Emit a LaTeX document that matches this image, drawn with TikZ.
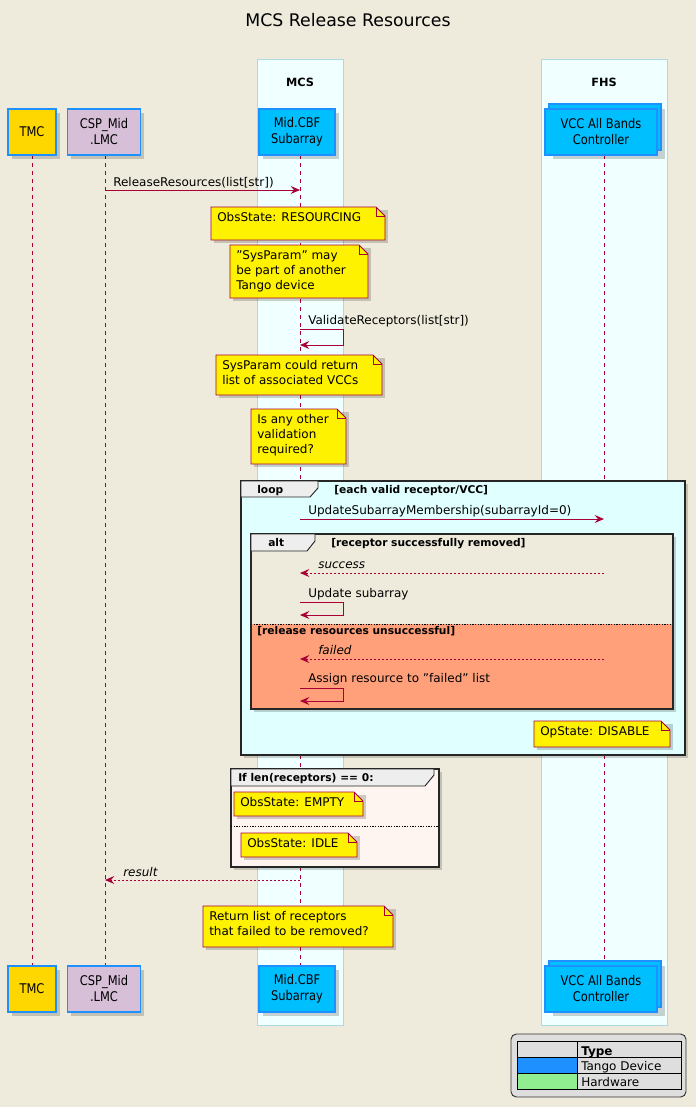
\documentclass[tikz,border=0pt]{standalone}
\usepackage{fontspec}
\setmainfont{DejaVu Sans}
\newfontfamily\narrowf{DejaVu Sans}[FakeStretch=0.86]
\usetikzlibrary{arrows.meta}
\definecolor{bg}{HTML}{EEEBDC}
\definecolor{ln}{HTML}{A80036}
\definecolor{boxf}{HTML}{F0FFFF}
\definecolor{boxd}{HTML}{ADD8E6}
\definecolor{loopf}{HTML}{E0FFFF}
\definecolor{salmon}{HTML}{FFA07A}
\definecolor{seash}{HTML}{FFF5F0}
\definecolor{dblue}{HTML}{1E90FF}
\definecolor{dsky}{HTML}{00BFFF}
\definecolor{gold}{HTML}{FFD700}
\definecolor{thistle}{HTML}{D8BFD8}
\definecolor{lgreen}{HTML}{90EE90}
\definecolor{tabf}{HTML}{EEEEEE}
\tikzset{
  part/.style={draw=dblue,line width=0.9pt,align=center,inner sep=0pt,font=\narrowf\fontsize{10}{12}\selectfont},
  life/.style={draw=ln,dashed,dash pattern=on 3pt off 3pt,line width=0.6pt},
  msg/.style={draw=ln,line width=0.7pt,-{Stealth[length=7pt,width=6pt,inset=2.5pt]}},
  ret/.style={msg,dash pattern=on 1.5pt off 1.5pt},
  lbl/.style={anchor=base west,inner sep=0pt,font=\fontsize{9}{11}\selectfont},
  ilbl/.style={lbl,font=\fontsize{9}{11}\selectfont\itshape},
  ntxt/.style={anchor=north west,inner sep=0pt,align=left,font=\fontsize{9}{11.2}\selectfont},
  frm/.style={draw=black!85,line width=1.4pt},
  ftab/.style={anchor=base west,inner sep=0pt,font=\bfseries\fontsize{8}{10}\selectfont},
  shadow/.style={fill=black,opacity=0.18,draw=none},
}
\newcommand\mynote[6]{%
  \fill[shadow] (#2+3,#3+3) rectangle (#4+3,#5+3);
  \draw[ln,fill=yellow,line width=0.6pt] (#2,#3) -- (#4-9,#3) -- (#4,#3+9) -- (#4,#5) -- (#2,#5) -- cycle;
  \draw[ln,line width=0.6pt] (#4-9,#3) -- (#4-9,#3+9) -- (#4,#3+9);
  \node[ntxt] (#1) at (#2+6,#3+5) {#6};}
\newcommand\mypart[6]{%
  \fill[shadow] (#2+4,#3+4) rectangle (#4+4,#5+4);
  \node[part,fill=#6,minimum width={(#4-#2)*0.75pt},minimum height={(#5-#3)*0.75pt}] (#1) at ({(#2+#4)/2},{(#3+#5)/2}) {\strut\\[-12pt]};}
\begin{document}
\begin{tikzpicture}[x=0.75pt,y=-0.75pt]
\fill[bg] (0,0) rectangle (696,1107);
\useasboundingbox (0,0) rectangle (696,1107);
\node[font=\fontsize{13}{15}\selectfont] (title) at (348,20) {MCS Release Resources};
% boxes
\draw[boxd,fill=boxf,line width=0.6pt] (257,59) rectangle (343,1025);
\draw[boxd,fill=boxf,line width=0.6pt] (541,59) rectangle (667,1025);
\node[font=\bfseries\fontsize{8.5}{10}\selectfont] (mcs) at (300,82) {MCS};
\node[font=\bfseries\fontsize{8.5}{10}\selectfont] (fhs) at (604,82) {FHS};
% lifelines
\coordinate (l1t) at (32,155); \coordinate (l1b) at (32,966);
\coordinate (l2t) at (105,155); \coordinate (l2b) at (105,966);
\coordinate (l3t) at (300,155); \coordinate (l3b) at (300,966);
\coordinate (l4t) at (604,155); \coordinate (l4b) at (604,966);
\draw[life] (l1t) -- (l1b); \draw[life] (l2t) -- (l2b);
\draw[life] (l3t) -- (l3b); \draw[life] (l4t) -- (l4b);
% participants
\foreach \y/\s in {109/t,966/b}{
  \fill[shadow] (12,\y+4) rectangle (60,\y+50);
  \node[part,fill=gold,minimum width=36pt,minimum height=34.5pt] (tmc\s) at (32,\y+23) {TMC};
  \fill[shadow] (71,\y+4) rectangle (144,\y+50);
  \node[part,fill=thistle,minimum width=54.75pt,minimum height=34.5pt] (csp\s) at (104,\y+23) {CSP\_Mid\\.LMC};
  \fill[shadow] (263,\y+4) rectangle (339,\y+50);
  \node[part,fill=dsky,minimum width=57pt,minimum height=34.5pt] (cbf\s) at (297,\y+23) {Mid.CBF\\Subarray};
  \fill[shadow] (553,\y) rectangle (665,\y+50);
  \draw[dblue,fill=dsky,line width=0.9pt] (549,\y-5) rectangle (661,\y+41);
  \node[part,fill=dsky,minimum width=84pt,minimum height=34.5pt] (vcc\s) at (601,\y+23) {VCC All Bands\\Controller};
}
% messages
\draw[msg] (l2t|-0,190) -- (l3t|-0,190);
\node[lbl] (m1) at (113,186) {ReleaseResources(list[str])};
\mynote{n1}{211}{207}{385}{240}{ObsState: RESOURCING}
\mynote{n2}{230}{245}{368}{298}{"SysParam" may\\be part of another\\Tango device}
\node[lbl] (m2) at (308,324) {ValidateReceptors(list[str])};
\draw[msg] (300,329) -- (343,329) -- (343,345) -- (300,345);
\mynote{n3}{216}{355}{382}{395}{SysParam could return\\list of associated VCCs}
\mynote{n4}{251}{409}{346}{464}{Is any other\\validation\\required?}
% loop frame
\fill[shadow] (244,484) rectangle (688,758);
\draw[frm,fill=loopf] (241,481) rectangle (685,755);
\draw[black!85,fill=tabf,line width=0.7pt] (241,481) -- (318,481) -- (318,488) -- (310,497) -- (241,497) -- cycle;
\node[ftab] (loopl) at (257,493) {loop};
\node[ftab] (loopg) at (334,493) {[each valid receptor/VCC]};
\draw[msg] (300,519) -- (l4t|-0,519);
\node[lbl] (m3) at (308,514) {UpdateSubarrayMembership(subarrayId=0)};
% alt frame
\fill[shadow] (254,537) rectangle (676,712);
\fill[bg] (251,534) rectangle (673,624);
\fill[salmon] (251,624) rectangle (673,709);
\draw[black,dash pattern=on 1pt off 1pt,line width=0.6pt] (251,624) -- (673,624);
\draw[frm] (251,534) rectangle (673,709);
\draw[black!85,fill=tabf,line width=0.7pt] (251,534) -- (315,534) -- (315,541) -- (307,551) -- (251,551) -- cycle;
\node[ftab] (altl) at (268,546) {alt};
\node[ftab] (altg) at (331,546) {[receptor successfully removed]};
\draw[ret] (l4t|-0,573) -- (300,573);
\node[ilbl] (m4) at (318,568) {success};
\node[lbl] (m5) at (308,597) {Update subarray};
\draw[msg] (300,602) -- (343,602) -- (343,615) -- (300,615);
\node[ftab] (altg2) at (257,634) {[release resources unsuccessful]};
\draw[ret] (l4t|-0,659) -- (300,659);
\node[ilbl] (m6) at (318,654) {failed};
\node[lbl] (m7) at (308,682) {Assign resource to "failed" list};
\draw[msg] (300,688) -- (343,688) -- (343,701) -- (300,701);
\mynote{n5}{534}{721}{670}{747}{OpState: DISABLE}
% if frame
\fill[shadow] (234,772) rectangle (442,870);
\draw[frm,fill=seash] (231,769) rectangle (439,867);
\draw[black!85,fill=tabf,line width=0.7pt] (231,769) -- (434,769) -- (434,775) -- (425,786) -- (231,786) -- cycle;
\node[ftab] (ifl) at (238,781) {If len(receptors) == 0:};
\draw[black,dash pattern=on 1pt off 1pt,line width=0.6pt] (231,826) -- (439,826);
\mynote{n6}{234}{792}{363}{816}{ObsState: EMPTY}
\mynote{n7}{241}{833}{357}{857}{ObsState: IDLE}
\draw[ret] (300,880) -- (l2t|-0,880);
\node[ilbl] (m8) at (123,876) {result};
\mynote{n8}{203}{906}{393}{947}{Return list of receptors\\that failed to be removed?}
% legend
\draw[black!80,fill=black!13,line width=0.7pt,rounded corners=4pt] (511,1034) rectangle (686,1097);
\fill[dblue] (517,1057) rectangle (577,1073);
\fill[lgreen] (517,1073) rectangle (577,1089);
\draw[black,line width=0.6pt] (517,1041) rectangle (681,1089);
\draw[black,line width=0.6pt] (517,1057) -- (681,1057) (517,1073) -- (681,1073) (577,1041) -- (577,1089);
\node[anchor=base west,inner sep=0pt,font=\bfseries\fontsize{9}{11}\selectfont] (lt) at (581,1055) {Type};
\node[anchor=base west,inner sep=0pt,font=\fontsize{9}{11}\selectfont] (l1) at (581,1070) {Tango Device};
\node[anchor=base west,inner sep=0pt,font=\fontsize{9}{11}\selectfont] (l2) at (581,1086) {Hardware};
\end{tikzpicture}
\end{document}
